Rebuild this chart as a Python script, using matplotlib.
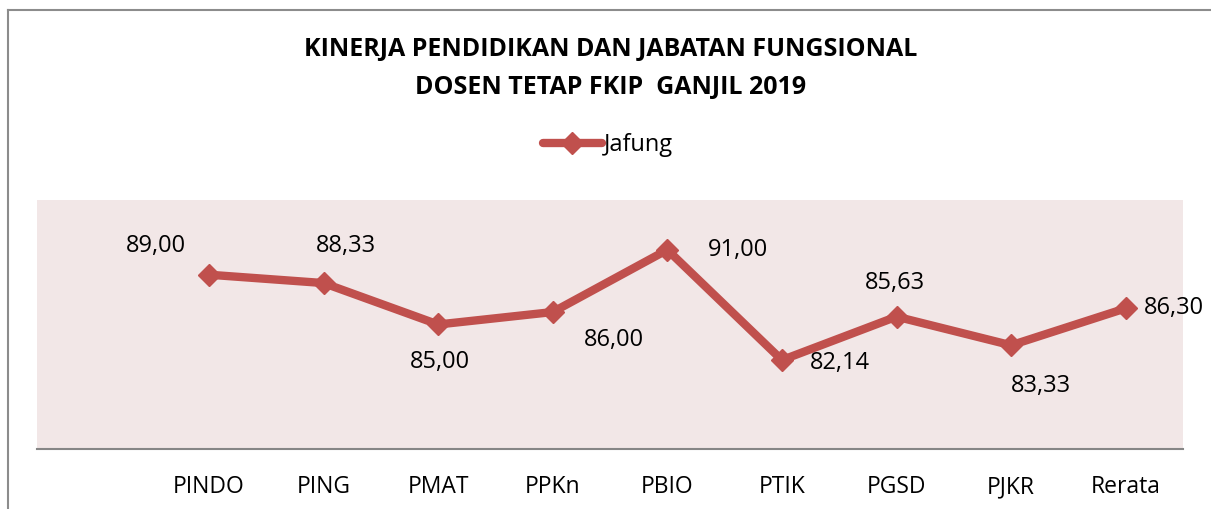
import matplotlib.pyplot as plt
from matplotlib.lines import Line2D

plt.rcParams['font.family'] = ['Open Sans', 'DejaVu Sans']

# data
categories = ['PINDO', 'PING', 'PMAT', 'PPKn', 'PBIO', 'PTIK', 'PGSD', 'PJKR', 'Rerata']
jafung = [89.00, 88.33, 85.00, 86.00, 91.00, 82.14, 85.63, 83.33, 86.30]
# label offsets (points) per point
label_offsets = [(-38, 21), (16, 27), (1.5, -27), (44, -20), (51, 0),
                 (42, -2), (-1, 24), (21.5, -29), (34.5, 0)]

line_color = '#C0504D'
bg_color = '#F2E7E7'

fig = plt.figure(figsize=(12.11, 5.09), dpi=100)
ax = fig.add_axes([0.0306, 0.118, 0.9463, 0.489])
ax.set_facecolor(bg_color)

x = list(range(len(categories)))
ax.plot(x, jafung, color=line_color, linewidth=6, marker='D', markersize=11,
        solid_joinstyle='round', solid_capstyle='round', label='Jafung')

for xi, v, (dx, dy) in zip(x, jafung, label_offsets):
    ax.annotate(f'{v:.2f}'.replace('.', ','), (xi, v), xytext=(dx, dy),
                textcoords='offset points', ha='center', va='center',
                fontsize=17, color='black')

ax.set_xlim(-1.5, len(categories) - 0.5)
ax.set_ylim(75, 95)
ax.set_xticks(x)
ax.set_xticklabels(categories, fontsize=16.5)
ax.tick_params(axis='x', length=0, pad=19)
ax.set_yticks([])
for side in ['top', 'left', 'right']:
    ax.spines[side].set_visible(False)
ax.spines['bottom'].set_color('#868686')
ax.spines['bottom'].set_linewidth(1.5)

fig.text(0.504, 0.902, 'KINERJA PENDIDIKAN DAN JABATAN FUNGSIONAL',
         ha='center', va='center', fontsize=18, fontweight='bold')
fig.text(0.504, 0.829, 'DOSEN TETAP FKIP  GANJIL 2019',
         ha='center', va='center', fontsize=18, fontweight='bold')

fig.legend(loc='center', bbox_to_anchor=(0.502, 0.715), frameon=False,
           fontsize=17, handlelength=2.5, handletextpad=0.1)

# chart border (left and top)
fig.add_artist(Line2D([8 / 1211, 8 / 1211], [0, 1 - 10 / 509],
                      transform=fig.transFigure, color='#8c8c8c', linewidth=1.5))
fig.add_artist(Line2D([8 / 1211, 1], [1 - 10 / 509, 1 - 10 / 509],
                      transform=fig.transFigure, color='#8c8c8c', linewidth=1.5))

fig.savefig('out.png', dpi=100, facecolor='white')
